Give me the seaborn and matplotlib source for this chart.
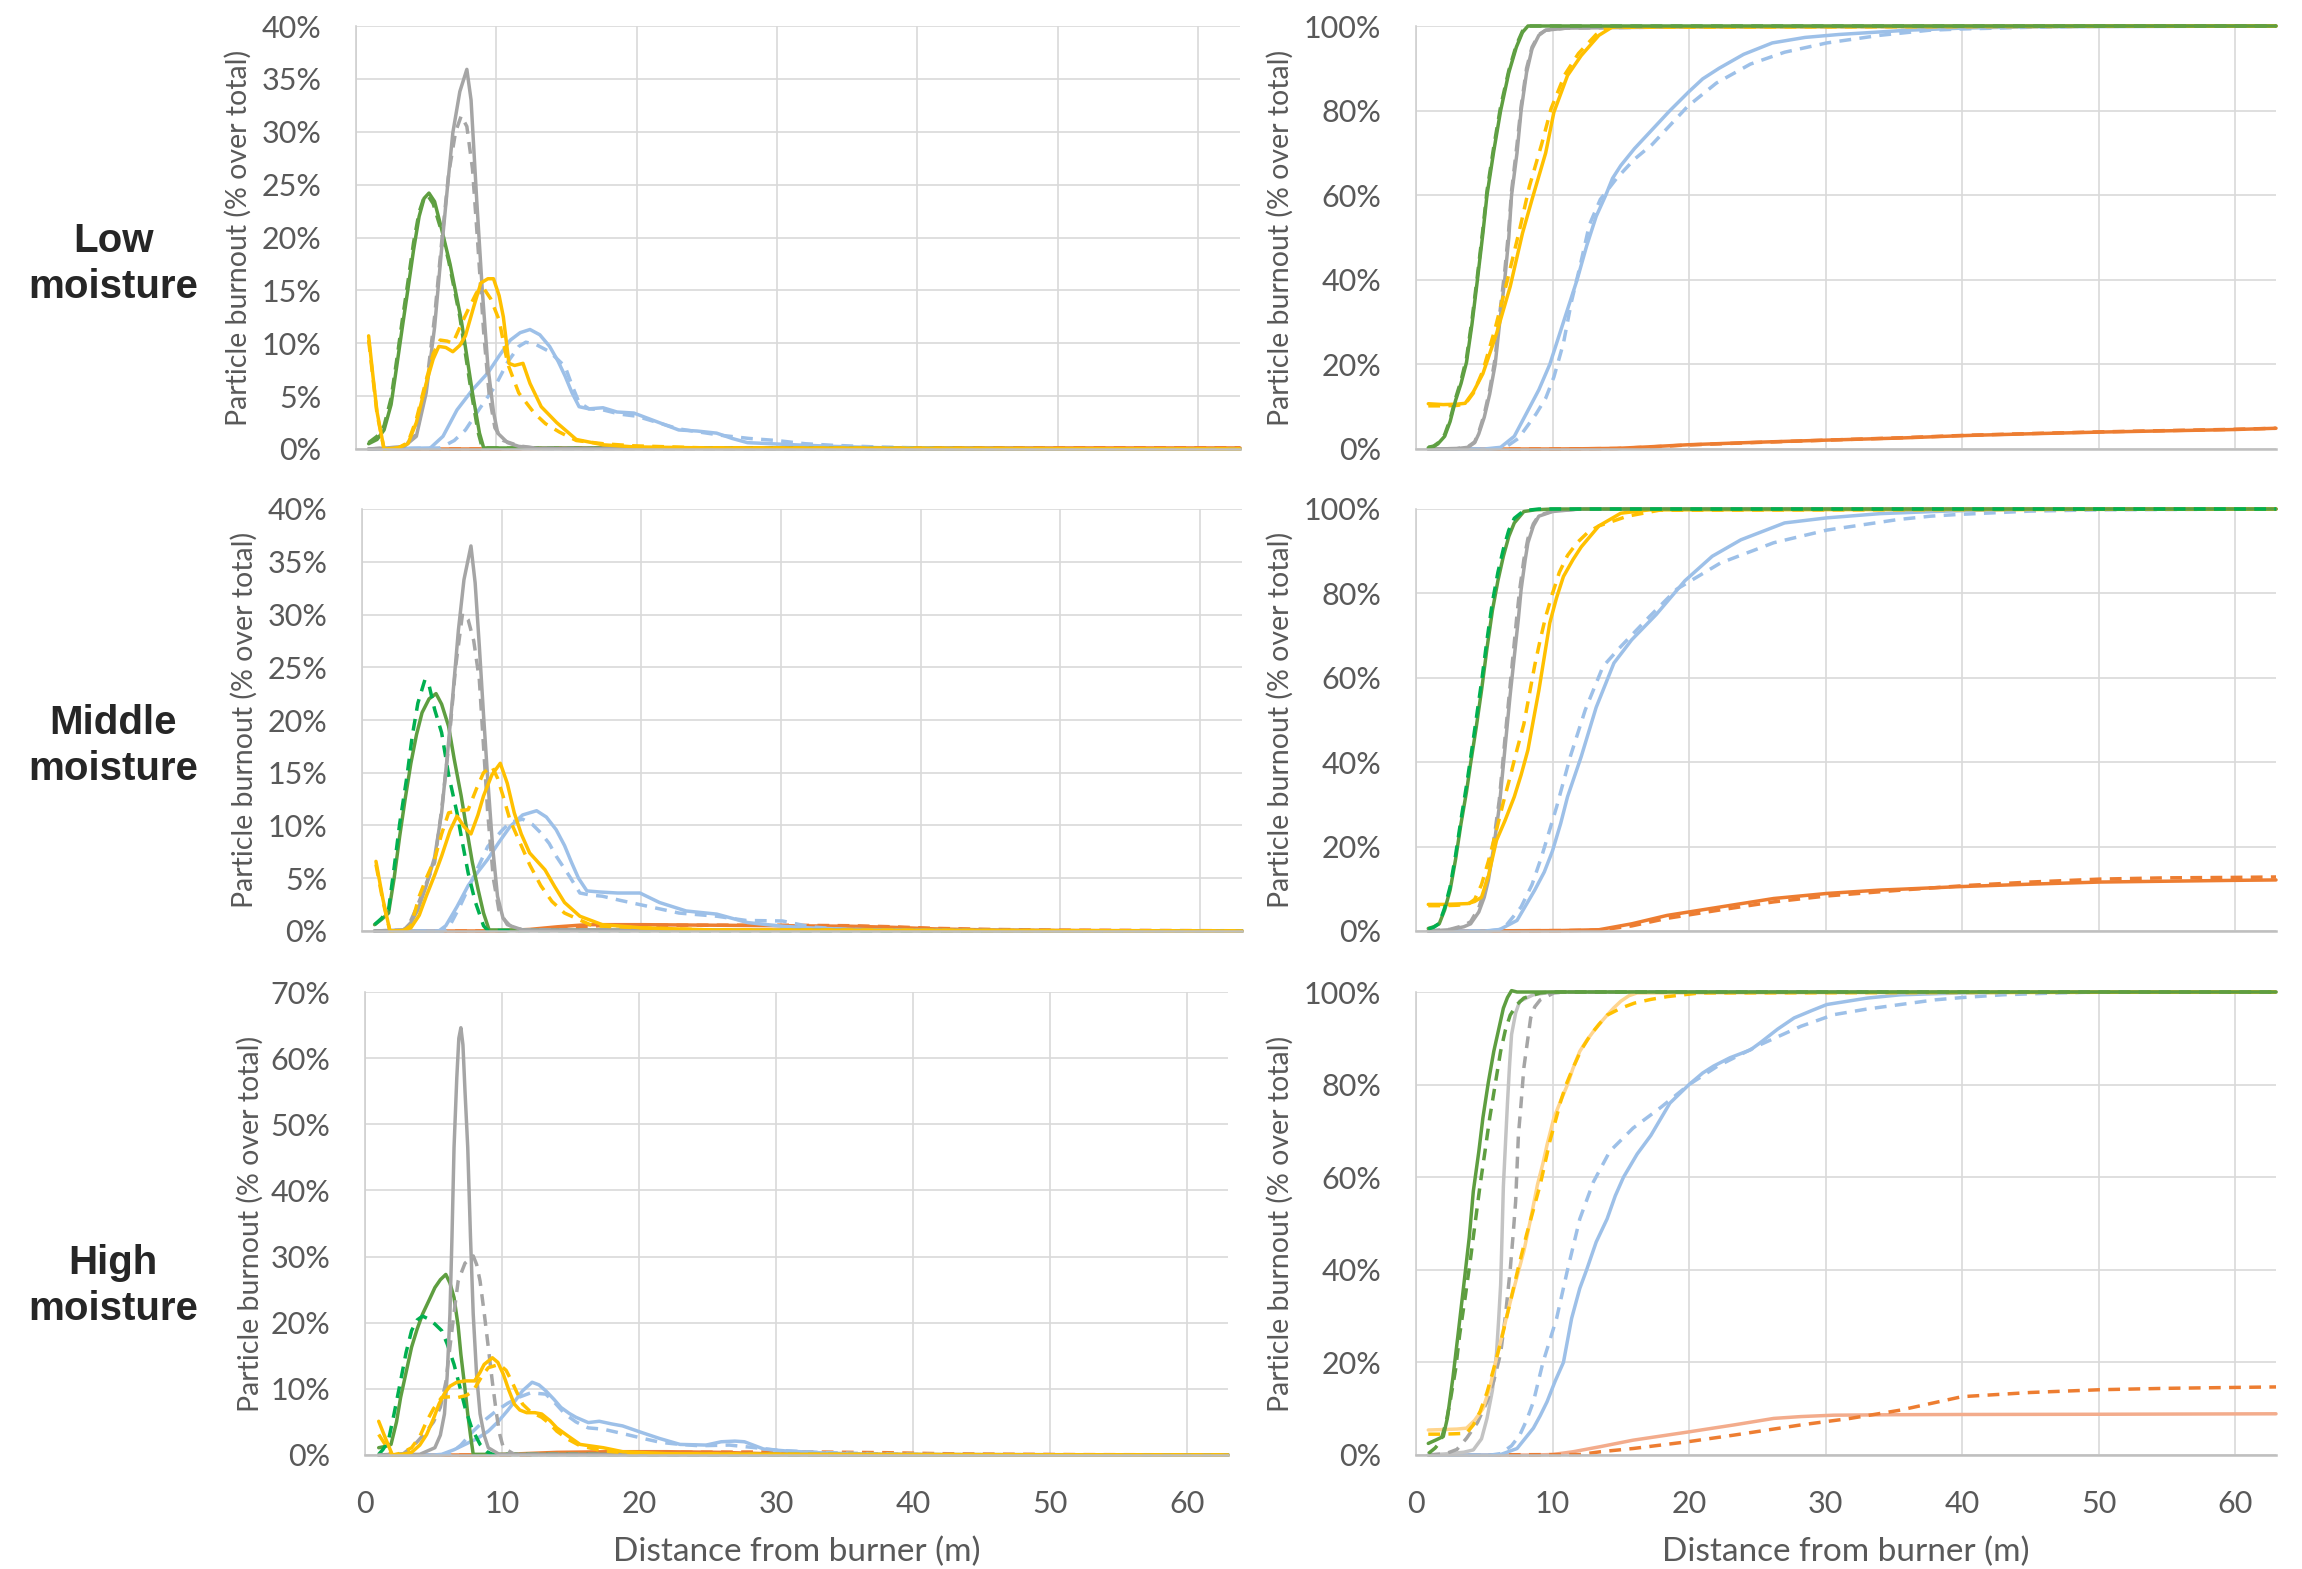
import matplotlib
matplotlib.use("Agg")
import matplotlib.pyplot as plt
import pandas as pd
import seaborn as sns
from matplotlib.ticker import FuncFormatter, FixedLocator

# ---------------------------------------------------------------- text
ROW_LABELS = ["Low\nmoisture", "Middle\nmoisture", "High\nmoisture"]
Y_LABEL = "Particle burnout (% over total)"
X_LABEL = "Distance from burner (m)"
X_TICKS = [0, 10, 20, 30, 40, 50, 60]
PDF_TICKS_LOW = [0, 5, 10, 15, 20, 25, 30, 35, 40]
PDF_TICKS_MID = [0, 5, 10, 15, 20, 25, 30, 35, 40]
PDF_TICKS_HIGH = [0, 10, 20, 30, 40, 50, 60, 70]
CDF_TICKS = [0, 20, 40, 60, 80, 100]

# ---------------------------------------------------------------- data: (distance m, %)
# ---- LOW moisture, distribution
LOW_PDF_GREEN_S = [(0.9,0.5),(1.5,0.9),(2.0,1.8),(2.5,4.2),(2.9,7.8),(3.3,11.5),(3.7,15.1),(4.1,18.8),(4.5,22.0),(4.85,23.7),(5.2,24.2),(5.6,23.4),(6.1,20.8),(6.7,17.5),(7.5,12.2),(8.3,5.3),(8.8,1.5),(9.1,0.1),(63,0)]
LOW_PDF_GREEN_D = [(0.9,0.6),(1.5,1.2),(2.0,2.2),(2.5,4.8),(2.9,8.4),(3.3,12.2),(3.7,15.8),(4.1,19.5),(4.5,22.4),(4.85,23.8),(5.1,24.0),(5.5,23.2),(6.0,21.0),(6.6,17.8),(7.4,12.5),(8.2,5.5),(8.7,1.6),(9.0,0.1),(63,0)]
LOW_PDF_GRAY_S = [(0.9,0),(3.4,0.2),(4.3,1.2),(5.0,5.3),(5.6,11.5),(6.1,18.9),(6.5,24.5),(6.9,29.9),(7.4,33.8),(7.9,35.9),(8.2,33.0),(8.6,23.6),(9.0,15.0),(9.4,7.8),(9.8,3.5),(10.1,1.5),(10.8,0.6),(11.6,0.25),(13,0.05),(63,0)]
LOW_PDF_GRAY_D = [(0.9,0),(3.4,0.2),(4.3,1.4),(5.0,5.8),(5.6,12.5),(6.1,19.5),(6.6,26.0),(7.1,30.0),(7.5,31.5),(7.9,30.5),(8.3,26.5),(8.7,19.0),(9.1,11.0),(9.5,5.0),(9.9,2.0),(10.5,0.8),(11.6,0.3),(13,0.05),(63,0)]
LOW_PDF_GOLD_S = [(0.9,10.7),(1.2,7.0),(1.5,3.5),(2.0,0),(3.0,0.1),(3.7,0.5),(4.3,2.5),(5.0,6.2),(5.5,8.5),(5.9,9.7),(6.4,9.6),(6.9,9.2),(7.4,9.8),(7.8,10.7),(8.4,13.5),(8.9,15.7),(9.4,16.1),(9.8,16.1),(10.2,14.5),(10.5,12.5),(10.9,8.1),(11.3,7.9),(11.9,8.1),(12.4,6.2),(13.2,4.0),(14.3,2.5),(15.7,0.9),(17.6,0.4),(19.8,0.2),(25,0.1),(63,0)]
LOW_PDF_GOLD_D = [(0.9,10.3),(1.5,3.3),(2.0,0),(3.0,0.1),(3.7,0.6),(4.3,2.8),(5.0,6.5),(5.5,9.0),(6.0,10.3),(6.5,10.2),(6.9,10.0),(7.5,11.8),(8.0,13.2),(8.6,14.8),(9.1,15.2),(9.6,14.2),(10.2,12.2),(10.8,8.1),(11.6,5.3),(12.7,3.4),(13.5,2.4),(14.5,1.6),(15.7,0.8),(17.6,0.5),(19.8,0.3),(25,0.1),(63,0)]
LOW_PDF_BLUE_S = [(0.9,0),(5.3,0.1),(6.2,1.2),(7.2,3.7),(8.3,5.6),(9.4,7.2),(10.2,8.8),(11.0,10.3),(11.7,11.0),(12.4,11.3),(13.1,10.8),(13.8,9.7),(14.4,8.3),(14.9,6.9),(15.4,5.3),(15.9,4.0),(16.6,3.8),(17.6,3.9),(18.6,3.5),(19.8,3.4),(20.8,2.9),(22.0,2.3),(23.0,1.8),(24.3,1.7),(25.7,1.5),(26.8,1.0),(27.9,0.6),(31.2,0.4),(34,0.25),(38,0.1),(42,0.05),(63,0)]
LOW_PDF_BLUE_D = [(0.9,0),(6.0,0.1),(7.0,0.8),(7.8,1.8),(8.8,3.8),(9.9,5.9),(10.8,8.2),(11.6,9.7),(12.1,10.1),(12.8,9.9),(13.8,9.2),(14.9,7.8),(15.4,6.0),(15.9,4.4),(16.6,3.8),(17.6,3.7),(18.8,3.3),(20.0,3.1),(21.5,2.5),(23.0,1.9),(24.5,1.6),(26.0,1.3),(28,1.0),(30,0.8),(32,0.5),(34,0.35),(37,0.2),(42,0.05),(63,0)]
LOW_PDF_ORANGE_S = [(0.9,0),(10,0),(15,0.1),(25,0.1),(40,0.1),(63,0.1)]
LOW_PDF_ORANGE_D = [(0.9,0),(10,0),(15,0.1),(25,0.1),(40,0.1),(63,0.1)]

# ---- LOW moisture, cumulative
LOW_CDF_GREEN_S = [(0.9,0.3),(1.3,0.6),(1.6,1.2),(2.1,3.0),(2.5,6.5),(2.9,11.5),(3.3,15.5),(3.7,20.5),(4.1,29.5),(4.5,40),(4.9,51),(5.2,60),(5.7,70.5),(6.2,80),(6.8,89),(7.35,95),(7.8,98.5),(8.2,100),(63,100)]
LOW_CDF_GREEN_D = [(0.9,0.4),(1.3,0.7),(1.6,1.4),(2.1,3.4),(2.5,7.0),(2.9,12.0),(3.3,16.2),(3.7,21.5),(4.1,30.5),(4.5,41),(4.9,52),(5.2,61),(5.7,71.5),(6.2,81),(6.8,89.5),(7.35,95.5),(7.8,98.8),(8.2,100),(63,100)]
LOW_CDF_GRAY_S = [(0.9,0),(3.0,0.1),(3.8,0.4),(4.3,1.5),(4.6,3.6),(5.0,7.5),(5.4,13),(5.8,20),(6.1,29),(6.5,40),(6.8,50),(7.0,60),(7.4,70),(7.7,80),(8.1,89),(8.5,94.6),(9.0,97.8),(9.5,99),(11,99.5),(20,99.8),(63,100)]
LOW_CDF_GRAY_D = [(0.9,0),(3.0,0.1),(3.8,0.5),(4.3,1.7),(4.6,4.0),(5.0,8.2),(5.4,14),(5.8,21.5),(6.1,31),(6.5,42),(6.8,52),(7.0,61),(7.4,72),(7.7,81),(8.1,90),(8.5,95),(9.0,98),(9.5,99),(11,99.5),(20,99.8),(63,100)]
LOW_CDF_GOLD_S = [(0.9,10.7),(2.0,10.5),(3.0,10.6),(3.6,10.8),(4.2,13.5),(4.9,17.8),(5.9,27.3),(6.9,38.4),(7.8,51),(8.5,59),(9.5,70),(10.1,79.6),(11.1,88.3),(12.1,93),(13.4,97.8),(14.4,99.8),(63,100)]
LOW_CDF_GOLD_D = [(0.9,10.2),(2.0,10.2),(3.0,10.3),(3.6,10.6),(4.2,13.2),(4.9,18.5),(5.8,28.5),(6.7,40),(7.6,52),(8.3,62),(9.2,72),(9.9,80.5),(10.9,88.5),(11.9,93.5),(13.2,98),(14.0,99.7),(63,100)]
LOW_CDF_BLUE_S = [(0.9,0),(5.0,0),(6.2,0.4),(7.2,3.0),(8.2,9.1),(9.0,14),(9.8,20),(10.5,27),(11.2,34),(11.8,40),(12.5,48),(13.2,55),(13.9,60),(14.4,64),(15.0,67),(16.0,71),(17.3,75.5),(18.6,80),(20.0,84.5),(21.0,87.5),(22.2,90),(24.0,93.3),(26.1,96),(28.5,97.3),(31,98),(36,99),(40,99.5),(45,99.8),(63,100)]
LOW_CDF_BLUE_D = [(0.9,0),(5.5,0),(6.5,0.3),(7.5,2.5),(8.8,8.3),(9.5,12),(10.1,17),(10.8,25),(11.4,35),(12.0,43),(12.7,53),(13.5,59),(14.7,64),(16.0,68.5),(17.3,72),(18.6,76.5),(19.9,81),(22.0,86.5),(24.5,91),(27.0,93.8),(30.1,96),(34,97.8),(37.6,99),(40,99.3),(45,99.7),(50,100),(63,100)]
LOW_CDF_ORANGE_S = [(0.9,0),(10,0),(12,0.05),(14.7,0.15),(17,0.5),(19.9,1.0),(25,1.6),(30.1,2.1),(35.5,2.6),(40.4,3.2),(45,3.6),(50.1,4.0),(55,4.3),(59.9,4.6),(63,4.9)]
LOW_CDF_ORANGE_D = [(0.9,0),(10,0),(12,0.05),(14.7,0.12),(17,0.45),(19.9,0.95),(25,1.55),(30.1,2.1),(35.5,2.65),(40.4,3.25),(45,3.65),(50.1,4.05),(55,4.35),(59.9,4.65),(63,4.9)]

# ---- MIDDLE moisture, distribution
MID_PDF_GREEN_S = [(0.9,0.6),(1.4,1.1),(1.9,1.7),(2.3,5.0),(2.7,9.0),(3.1,12.6),(3.5,15.9),(3.9,18.6),(4.3,20.7),(4.8,22.0),(5.3,22.5),(5.7,21.5),(6.2,19.4),(6.6,16.3),(7.1,12.8),(7.5,9.6),(7.9,6.5),(8.3,4.0),(8.7,1.7),(9.1,0.1),(63,0)]
MID_PDF_GREEN_D = [(0.9,0.6),(1.4,1.2),(1.9,2.0),(2.3,6.0),(2.7,10.2),(3.2,14.5),(3.6,18.5),(4.0,21.6),(4.5,23.8),(4.8,23.3),(5.2,21.0),(5.7,18.8),(6.2,14.8),(6.8,11.2),(7.2,8.3),(7.6,5.5),(8.1,2.8),(8.7,0.5),(9.0,0.05),(63,0)]
MID_PDF_GRAY_S = [(0.9,0),(3.0,0.1),(3.5,0.8),(4.0,2.0),(4.6,4.3),(5.2,7.0),(5.7,11.2),(6.1,16.5),(6.5,22.3),(6.9,28.5),(7.3,33.3),(7.8,36.5),(8.1,33.0),(8.4,27.0),(8.7,20.5),(9.0,14.4),(9.35,8.0),(9.7,3.3),(10.1,1.2),(10.6,0.5),(11.5,0.1),(63,0)]
MID_PDF_GRAY_D = [(0.9,0),(3.0,0.1),(3.5,1.0),(4.0,2.5),(4.6,4.5),(5.2,6.5),(5.7,11.5),(6.2,17.5),(6.7,25.0),(7.2,30.1),(7.6,29.5),(8.0,27.5),(8.4,23.8),(8.7,17.5),(9.0,11.2),(9.4,5.0),(9.8,2.0),(10.4,0.6),(11.5,0.1),(63,0)]
MID_PDF_GOLD_S = [(1.0,6.6),(1.5,3.0),(2.0,0),(3.0,0.05),(3.5,0.3),(4.1,1.5),(4.6,3.3),(5.2,5.3),(5.7,7.1),(6.3,9.5),(6.8,10.9),(7.3,9.9),(7.8,9.2),(8.3,11.0),(8.7,12.8),(9.3,14.8),(9.9,15.9),(10.4,14.0),(10.9,11.2),(11.4,9.2),(12.0,7.4),(13.1,5.8),(13.8,4.2),(14.5,2.7),(15.6,1.4),(17.2,0.6),(20,0.3),(25,0.1),(63,0)]
MID_PDF_GOLD_D = [(1.0,6.3),(1.5,2.8),(2.0,0),(3.0,0.05),(3.5,0.5),(4.1,3.3),(4.6,5.0),(5.2,6.8),(5.7,9.2),(6.2,11.2),(6.9,11.4),(7.6,11.5),(8.2,13.5),(8.7,15.0),(9.3,15.6),(9.7,14.5),(10.1,12.8),(10.6,10.5),(11.2,8.7),(12.0,6.3),(12.8,4.3),(13.6,2.8),(14.5,1.7),(16.5,0.5),(20,0.3),(25,0.1),(63,0)]
MID_PDF_BLUE_S = [(0.9,0),(5.5,0),(6.0,0.5),(6.8,2.3),(7.6,4.3),(8.3,5.6),(9.0,6.8),(9.8,8.4),(10.6,9.9),(11.5,11.0),(12.5,11.4),(13.2,10.8),(13.9,9.6),(14.5,8.1),(15.0,6.5),(15.5,5.0),(16.1,3.8),(17.0,3.7),(18.3,3.6),(19.9,3.6),(21.3,2.7),(23.2,1.9),(25.4,1.6),(26.5,1.2),(27.6,0.8),(30.1,0.45),(32,0.3),(35,0.15),(40,0.05),(63,0)]
MID_PDF_BLUE_D = [(0.9,0),(5.8,0),(6.2,0.3),(7.0,2.3),(7.9,4.9),(9.0,8.0),(10.0,9.5),(10.6,10.3),(11.5,10.6),(12.2,10.1),(12.8,9.3),(13.4,8.3),(13.9,7.1),(14.8,5.3),(15.6,3.6),(16.4,3.4),(17.2,3.3),(18.5,2.9),(19.9,2.5),(21.3,2.1),(22.7,1.7),(25.4,1.4),(27.5,1.0),(30.1,0.95),(32.1,0.4),(34.4,0.15),(40,0.05),(63,0)]
MID_PDF_ORANGE_S = [(0.9,0),(9.5,0),(12,0.15),(14,0.4),(16.1,0.6),(20,0.6),(25,0.55),(30,0.5),(35,0.45),(38,0.35),(41,0.2),(45,0.1),(50,0.05),(63,0)]
MID_PDF_ORANGE_D = [(0.9,0),(10,0),(12.5,0.1),(15,0.3),(17,0.5),(20,0.55),(25,0.55),(30,0.55),(35,0.5),(38,0.4),(41,0.25),(45,0.15),(50,0.08),(63,0.02)]

# ---- MIDDLE moisture, cumulative
MID_CDF_GREEN_S = [(0.9,0.6),(1.3,1.0),(1.7,1.7),(2.1,5.0),(2.5,9.7),(2.9,17),(3.3,25.5),(3.7,33),(4.0,39.7),(4.4,48),(4.8,57),(5.2,67),(5.6,76),(6.0,83),(6.4,88.8),(6.8,93.5),(7.2,96.7),(7.9,99.4),(8.7,99.8),(10,100),(63,100)]
MID_CDF_GREEN_D = [(0.9,0.5),(1.3,0.9),(1.7,1.8),(2.1,5.5),(2.5,10.5),(2.9,18),(3.3,26.5),(3.7,34.5),(4.0,41),(4.4,50),(4.8,59),(5.2,69),(5.6,78),(6.0,85),(6.4,90.5),(6.8,95),(7.2,97.8),(7.9,99.6),(9,100),(63,100)]
MID_CDF_GRAY_S = [(0.9,0),(2.5,0.3),(3.5,1.0),(4.0,1.7),(4.6,4.5),(5.0,8.0),(5.3,12),(5.7,20),(6.1,29.4),(6.6,46),(6.9,56),(7.2,65),(7.5,74),(7.7,80.9),(8.0,88),(8.2,92),(8.6,96),(9.0,98.3),(10.0,99.4),(12,100),(63,100)]
MID_CDF_GRAY_D = [(0.9,0),(2.5,0.4),(3.5,1.3),(4.0,2.2),(4.6,5.5),(5.0,9.5),(5.3,13.5),(5.7,21.5),(6.1,31),(6.5,45),(6.8,55),(7.1,65),(7.4,75),(7.6,81),(7.9,88),(8.2,93),(8.6,96.5),(9.0,98.5),(10,99.5),(12,100),(63,100)]
MID_CDF_GOLD_S = [(0.9,6.3),(2.0,6.3),(3.0,6.4),(3.8,6.5),(4.3,7),(4.8,8.0),(5.3,13),(5.9,21.5),(6.5,26),(7.2,31.8),(7.7,37),(8.2,42.9),(8.6,50),(9.0,57),(9.4,65),(9.8,73),(10.3,79),(10.8,84),(11.5,88),(12.1,91),(13.4,96),(15.0,99),(17.1,99.8),(63,100)]
MID_CDF_GOLD_D = [(0.9,6.0),(2.0,6.0),(3.0,6.1),(3.8,6.3),(4.3,7.5),(4.8,11),(5.3,16.5),(5.9,24),(6.4,30.5),(6.9,36.6),(7.4,43),(7.9,49),(8.3,56),(8.7,63),(9.1,69),(9.5,74.5),(10.0,80),(10.5,85),(11.1,89),(11.8,92),(12.6,94.5),(13.4,96),(15.5,98.3),(17.8,99.7),(63,100)]
MID_CDF_BLUE_S = [(0.9,0),(5,0),(6.1,0.3),(7.4,2.5),(8.7,9.7),(9.4,14),(10.0,19),(10.6,25.5),(11.1,31.8),(12.1,41.3),(13.2,53),(14.5,63.5),(15.8,69),(17.6,75),(19.7,83),(21.7,88.8),(23.8,92.7),(27.0,96.7),(30.1,97.9),(34.0,98.9),(37.9,99.4),(40,99.6),(45,100),(63,100)]
MID_CDF_BLUE_D = [(0.9,0),(5.3,0),(6.4,0.5),(7.7,5.7),(8.5,11),(9.2,17.6),(10.3,29.4),(11.3,41.3),(12.4,52.4),(13.7,62.7),(15.0,67.4),(17.1,74.5),(19.1,81),(22.3,87.2),(26.2,92),(30.1,95),(35.3,97.5),(37.7,98.3),(39.7,98.7),(45,99.5),(50,99.8),(63,100)]
MID_CDF_ORANGE_S = [(0.9,0),(10.5,0.1),(13.4,0.3),(15.8,1.7),(18.4,3.7),(22.3,5.7),(26.2,7.7),(30.1,8.9),(34.0,9.7),(35.5,9.9),(39.7,10.5),(45,11.1),(50.1,11.6),(55,11.8),(59.9,12.0),(63,12.1)]
MID_CDF_ORANGE_D = [(0.9,0),(11,0.1),(13.4,0.2),(15.8,1.2),(18.4,3.0),(22.3,5.0),(26.2,6.9),(30.1,8.3),(34.0,9.3),(36,9.8),(40.4,10.8),(45,11.6),(50.1,12.3),(55,12.6),(59.9,12.7),(63,12.8)]

# ---- HIGH moisture, distribution
HIGH_PDF_GREEN_S = [(1.0,1.1),(1.5,1.3),(1.9,1.6),(2.3,5.0),(2.6,8.7),(3.0,12.5),(3.4,16.3),(3.8,19.0),(4.2,21.3),(4.7,23.5),(5.1,25.3),(5.5,26.5),(5.9,27.3),(6.2,26.0),(6.5,23.8),(6.8,19.5),(7.0,15.2),(7.3,10.0),(7.5,6.2),(7.7,3.0),(7.9,0.1),(63,0)]
HIGH_PDF_GREEN_D = [(1.0,0.1),(1.3,0.8),(1.7,2.1),(2.1,6.0),(2.6,11.2),(3.0,15.5),(3.4,18.8),(3.8,20.4),(4.2,21.0),(4.7,20.5),(5.1,19.8),(5.6,18.8),(6.0,16.8),(6.5,13.7),(6.9,10.5),(7.3,7.2),(7.8,4.0),(8.4,1.6),(8.9,0.5),(9.3,0.1),(63,0)]
HIGH_PDF_GRAY_S = [(1.0,0),(4.0,0.1),(5.1,1.1),(5.5,3.0),(5.8,6.2),(6.0,12),(6.2,21.3),(6.35,33),(6.5,46.5),(6.7,57),(6.85,63),(7.0,64.6),(7.15,62),(7.3,55),(7.5,46.5),(7.7,33),(7.9,21.3),(8.15,12),(8.4,6.2),(8.7,3),(9.0,1.1),(9.8,0.1),(63,0)]
HIGH_PDF_GRAY_D = [(1.0,0),(2.8,0.2),(3.6,1.5),(4.5,3.6),(5.0,5.0),(5.5,7.2),(5.9,11),(6.2,16.3),(6.5,21.5),(6.8,26.3),(7.3,29.0),(7.9,30.1),(8.15,28.8),(8.4,26.3),(8.7,21.5),(9.0,16.3),(9.3,11),(9.6,6.2),(9.85,3),(10.1,1.1),(10.9,0.1),(63,0)]
HIGH_PDF_GOLD_S = [(1.0,5.1),(1.5,2.5),(2.0,0),(2.7,0.1),(3.4,0.4),(4.0,1.5),(4.5,3.1),(5.0,5.5),(5.4,7.7),(5.8,9.3),(6.2,10.4),(6.7,11.0),(7.3,11.2),(8.0,11.2),(8.4,12.5),(8.7,13.7),(9.3,14.7),(9.7,14.0),(10.1,12.2),(10.5,9.8),(10.9,7.7),(11.3,6.8),(11.8,6.4),(12.4,6.4),(12.9,6.2),(13.5,5.2),(14.0,4.1),(14.8,2.9),(15.7,1.6),(17.4,1.1),(18.8,0.5),(22,0.2),(30,0.1),(63,0)]
HIGH_PDF_GOLD_D = [(1.0,3.1),(1.5,1.5),(2.0,0),(2.7,0.3),(3.4,1.1),(4.0,2.8),(4.5,5.1),(5.0,7.0),(5.6,8.7),(6.2,8.8),(6.8,8.7),(7.4,9.0),(7.9,9.7),(8.5,11.8),(9.0,13.2),(9.8,13.7),(10.3,12.8),(10.7,11.2),(11.1,9.4),(11.5,7.7),(12.1,6.5),(12.9,5.7),(13.5,4.7),(14.0,3.6),(14.8,2.4),(15.7,1.4),(17.4,0.6),(20,0.2),(30,0.1),(63,0)]
HIGH_PDF_BLUE_S = [(1.0,0),(5.0,0),(5.6,0.1),(6.5,0.8),(7.3,1.6),(8.2,2.5),(9.0,3.6),(9.7,5.0),(10.4,6.7),(11.0,8.3),(11.5,9.7),(12.2,11.0),(12.7,10.6),(13.2,9.7),(13.8,8.4),(14.3,7.2),(14.9,6.3),(15.4,5.7),(16.3,4.9),(17.1,5.1),(18.0,4.7),(18.8,4.4),(20.2,3.4),(21.5,2.5),(23.0,1.6),(24.9,1.5),(26.0,2.0),(27.0,2.1),(27.7,2.0),(29.1,0.9),(30.8,0.6),(33.6,0.3),(37,0.1),(63,0)]
HIGH_PDF_BLUE_D = [(1.0,0),(5.5,0),(6.2,0.2),(7.0,1.5),(7.9,3.6),(8.7,5.2),(9.6,6.7),(10.4,7.8),(11.2,8.7),(12.1,9.4),(13.2,9.2),(13.9,7.8),(14.6,6.2),(15.4,5.0),(16.3,4.1),(17.4,3.9),(19.1,3.1),(20.3,2.5),(21.6,1.9),(23.0,1.6),(24.4,1.4),(26.6,1.5),(28.5,1.1),(30.2,0.7),(33,0.4),(37,0.2),(42,0.05),(63,0)]
HIGH_PDF_ORANGE_S = [(1.0,0),(9,0),(11.5,0.2),(14,0.4),(18,0.5),(22,0.5),(26,0.4),(30,0.15),(35,0.05),(63,0)]
HIGH_PDF_ORANGE_D = [(1.0,0),(12,0),(14,0.2),(18,0.35),(22,0.4),(28,0.45),(33,0.45),(38,0.35),(42,0.2),(47,0.12),(52,0.06),(63,0.02)]

# ---- HIGH moisture, cumulative
HIGH_CDF_GREEN_S = [(0.9,2.5),(1.5,3.3),(2.0,4.0),(2.3,8),(2.7,16.6),(3.1,26.5),(3.5,36.7),(3.9,47),(4.2,57),(4.6,65.5),(4.9,72.8),(5.3,80.5),(5.7,87.2),(6.1,92.5),(6.4,96.5),(6.7,98.8),(7.0,100.3),(7.4,100),(63,100)]
HIGH_CDF_GREEN_D = [(0.9,0.3),(1.4,1.5),(1.8,2.9),(2.2,7),(2.5,11.5),(2.9,18.5),(3.2,26),(3.6,34),(4.0,42.5),(4.35,50.5),(4.7,58.4),(5.05,65.5),(5.4,72.8),(5.8,80),(6.2,87.2),(6.55,91.8),(6.9,95),(7.4,97.3),(7.9,98.7),(9.1,99.8),(10,100),(63,100)]
HIGH_CDF_GRAY_S = [(0.9,0),(2.5,0.3),(3.5,0.6),(4.2,1.1),(4.8,3.5),(5.2,7.9),(5.6,14),(5.9,22),(6.05,29),(6.2,36.7),(6.3,47),(6.4,58),(6.55,67),(6.7,76),(6.85,84),(7.0,90.8),(7.3,95.5),(7.6,98),(8.6,99.4),(10,100),(63,100)]
HIGH_CDF_GRAY_D = [(0.9,0),(2.2,0.3),(3.0,1.2),(3.7,3.6),(4.5,7),(5.2,11.5),(5.7,16),(6.2,22),(6.55,30),(6.9,40),(7.1,47),(7.3,54.8),(7.5,69),(7.7,76),(7.9,83.6),(8.15,89),(8.4,94.4),(8.7,96.8),(9.1,98.3),(10.1,99.8),(11,100),(63,100)]
HIGH_CDF_GOLD_S = [(0.9,5.4),(2.0,5.5),(3.0,5.6),(3.7,5.8),(4.3,7.5),(4.9,10),(5.4,14.5),(5.9,20.9),(6.4,27),(6.9,33),(7.4,38.5),(7.9,44),(8.4,51),(8.9,58.4),(9.3,63),(9.6,67),(10.1,72.8),(10.6,76.5),(11.1,80),(11.5,83.5),(12.0,87.2),(12.5,89.5),(13.0,91.5),(13.5,93.3),(14.0,95),(14.5,96.6),(15.0,98),(15.6,99.2),(16.2,99.8),(63,100)]
HIGH_CDF_GOLD_D = [(0.9,4.5),(2.0,4.5),(3.0,4.6),(3.7,4.7),(4.2,6.5),(4.7,9.4),(5.2,13.5),(5.7,18.7),(6.3,25.5),(6.9,33),(7.5,40.5),(8.1,47.6),(8.6,53),(9.1,58.4),(9.45,63),(9.8,67.7),(10.2,72),(10.6,76.4),(11.0,80),(11.5,83.6),(12.1,87.5),(12.8,90.8),(13.4,93),(14.0,95),(15.0,96.5),(16.0,97.6),(17.2,98.4),(18.4,99),(20.8,99.8),(63,100)]
HIGH_CDF_BLUE_S = [(0.9,0),(5.5,0),(6.2,0.1),(7.4,1.4),(8.6,5.8),(9.1,8.5),(9.6,11.5),(10.2,16),(10.8,20),(11.4,29.5),(12.0,36),(12.5,40),(13.2,46),(14.0,51),(14.6,56),(15.2,60),(16.2,65),(17.2,69),(18.0,73),(18.6,76),(20.0,80),(21.0,82.5),(21.8,84),(23.0,85.8),(24.5,87.5),(25.2,89),(26.5,92),(27.7,94.4),(29.0,96),(30.1,97.3),(33.1,98.7),(35.5,99.4),(40,99.8),(45,100),(63,100)]
HIGH_CDF_BLUE_D = [(0.9,0),(5.5,0),(6.2,0.3),(7.0,2),(7.6,4.3),(8.1,7.5),(8.6,11.5),(9.3,20),(10.3,29.5),(11.1,40),(12.0,51),(13.0,59),(14.2,65.6),(15.9,70.6),(17.9,75),(20.0,80),(22.1,84),(25.2,88.6),(28.2,92.6),(30.6,95.1),(33,96.3),(35.5,97.3),(38,98.3),(40,98.8),(43,99.4),(47,99.8),(50,100),(63,100)]
HIGH_CDF_ORANGE_S = [(0.9,0),(8.6,0),(10,0.1),(11.5,0.7),(13.5,1.8),(15.9,3.2),(20.0,5.0),(23.3,6.5),(26.2,7.9),(28.2,8.3),(30.6,8.6),(35,8.7),(40,8.75),(50,8.8),(63,8.9)]
HIGH_CDF_ORANGE_D = [(0.9,0),(12.0,0.1),(13.5,0.7),(15.9,1.4),(20.0,2.9),(23.3,4.3),(28.2,6.5),(31.8,7.9),(35.5,9.7),(40,12.6),(45,13.5),(50.1,14.1),(55,14.4),(60.2,14.6),(63,14.7)]

# ---------------------------------------------------------------- styles
GREEN = "#5E9E40"
GREEN_D_LOW = "#5FA043"
GREEN_D = "#00B050"
GRAY = "#A5A5A5"
GRAY_LIGHT = "#C3C3C3"
GOLD = "#FFC000"
GOLD_LIGHT = "#FFD58E"
BLUE = "#9DC0E8"
ORANGE = "#ED7D31"
ORANGE_LIGHT = "#F3AC8C"

SOLID = "-"
DASH = (0, (3.4, 2.4))
LW = 2.5

# panel -> list of (series, colour, linestyle), drawn in this order
PANELS = {
    (0, 0): [(LOW_PDF_ORANGE_S, ORANGE, SOLID), (LOW_PDF_ORANGE_D, ORANGE, DASH),
             (LOW_PDF_BLUE_S, BLUE, SOLID), (LOW_PDF_BLUE_D, BLUE, DASH),
             (LOW_PDF_GREEN_S, GREEN, SOLID), (LOW_PDF_GREEN_D, GREEN_D_LOW, DASH),
             (LOW_PDF_GRAY_S, GRAY, SOLID), (LOW_PDF_GRAY_D, GRAY, DASH),
             (LOW_PDF_GOLD_S, GOLD, SOLID), (LOW_PDF_GOLD_D, GOLD, DASH)],
    (0, 1): [(LOW_CDF_ORANGE_S, ORANGE, SOLID), (LOW_CDF_ORANGE_D, ORANGE, DASH),
             (LOW_CDF_BLUE_S, BLUE, SOLID), (LOW_CDF_BLUE_D, BLUE, DASH),
             (LOW_CDF_GRAY_S, GRAY, SOLID), (LOW_CDF_GRAY_D, GRAY, DASH),
             (LOW_CDF_GOLD_S, GOLD, SOLID), (LOW_CDF_GOLD_D, GOLD, DASH),
             (LOW_CDF_GREEN_S, GREEN, SOLID), (LOW_CDF_GREEN_D, GREEN_D_LOW, DASH)],
    (1, 0): [(MID_PDF_ORANGE_S, ORANGE, SOLID), (MID_PDF_ORANGE_D, ORANGE, DASH),
             (MID_PDF_BLUE_S, BLUE, SOLID), (MID_PDF_BLUE_D, BLUE, DASH),
             (MID_PDF_GREEN_S, GREEN, SOLID), (MID_PDF_GREEN_D, GREEN_D, DASH),
             (MID_PDF_GRAY_S, GRAY, SOLID), (MID_PDF_GRAY_D, GRAY, DASH),
             (MID_PDF_GOLD_S, GOLD, SOLID), (MID_PDF_GOLD_D, GOLD, DASH)],
    (1, 1): [(MID_CDF_ORANGE_S, ORANGE, SOLID), (MID_CDF_ORANGE_D, ORANGE, DASH),
             (MID_CDF_BLUE_S, BLUE, SOLID), (MID_CDF_BLUE_D, BLUE, DASH),
             (MID_CDF_GRAY_S, GRAY, SOLID), (MID_CDF_GRAY_D, GRAY, DASH),
             (MID_CDF_GOLD_S, GOLD, SOLID), (MID_CDF_GOLD_D, GOLD, DASH),
             (MID_CDF_GREEN_S, GREEN, SOLID), (MID_CDF_GREEN_D, GREEN_D, DASH)],
    (2, 0): [(HIGH_PDF_ORANGE_S, ORANGE, SOLID), (HIGH_PDF_ORANGE_D, ORANGE, DASH),
             (HIGH_PDF_BLUE_S, BLUE, SOLID), (HIGH_PDF_BLUE_D, BLUE, DASH),
             (HIGH_PDF_GREEN_S, GREEN, SOLID), (HIGH_PDF_GREEN_D, GREEN_D, DASH),
             (HIGH_PDF_GRAY_S, GRAY, SOLID), (HIGH_PDF_GRAY_D, GRAY, DASH),
             (HIGH_PDF_GOLD_S, GOLD, SOLID), (HIGH_PDF_GOLD_D, GOLD, DASH)],
    (2, 1): [(HIGH_CDF_ORANGE_S, ORANGE_LIGHT, SOLID), (HIGH_CDF_ORANGE_D, ORANGE, DASH),
             (HIGH_CDF_BLUE_S, BLUE, SOLID), (HIGH_CDF_BLUE_D, BLUE, DASH),
             (HIGH_CDF_GRAY_S, GRAY_LIGHT, SOLID), (HIGH_CDF_GRAY_D, GRAY, DASH),
             (HIGH_CDF_GOLD_S, GOLD_LIGHT, SOLID), (HIGH_CDF_GOLD_D, GOLD, DASH),
             (HIGH_CDF_GREEN_S, GREEN, SOLID), (HIGH_CDF_GREEN_D, GREEN, DASH)],
}
YTICKS = {(0, 0): PDF_TICKS_LOW, (1, 0): PDF_TICKS_MID, (2, 0): PDF_TICKS_HIGH,
          (0, 1): CDF_TICKS, (1, 1): CDF_TICKS, (2, 1): CDF_TICKS}

# axes boxes in pixels: left, right, top, bottom
BOXES = {(0, 0): (356, 1240, 26, 449), (1, 0): (362, 1242, 509, 931), (2, 0): (365, 1228, 992, 1455),
         (0, 1): (1416, 2276, 26, 449), (1, 1): (1416, 2276, 509, 931), (2, 1): (1416, 2276, 992, 1455)}
YLABEL_X = {(0, 0): 238, (1, 0): 244, (2, 0): 250, (0, 1): 1280, (1, 1): 1280, (2, 1): 1280}
ROW_LABEL_Y = [264, 746, 1286]

# ---------------------------------------------------------------- figure
sns.set_theme(style="white")
plt.rcParams["font.family"] = ["Lato", "DejaVu Sans"]

W, H = 2302, 1569
fig = plt.figure(figsize=(W / 100, H / 100), dpi=100)
TXT = "#595959"
pct = FuncFormatter(lambda v, _: f"{v:.0f}%")

for key, series in PANELS.items():
    l, r, t, b = BOXES[key]
    ax = fig.add_axes([l / W, 1 - b / H, (r - l) / W, (b - t) / H])
    for pts, col, ls in series:
        df = pd.DataFrame(pts, columns=["dist", "burn"])
        sns.lineplot(data=df, x="dist", y="burn", ax=ax, color=col, linewidth=LW,
                     linestyle=ls, sort=False, estimator=None, clip_on=False)
    ticks = YTICKS[key]
    ax.set_xlim(0, 63)
    ax.set_ylim(0, ticks[-1])
    ax.xaxis.set_major_locator(FixedLocator(X_TICKS))
    ax.yaxis.set_major_locator(FixedLocator(ticks))
    ax.yaxis.set_major_formatter(pct)
    ax.grid(True, color="#D9D9D9", linewidth=1.2)
    ax.set_axisbelow(True)
    for s in ("top", "right"):
        ax.spines[s].set_visible(False)
    ax.spines["left"].set_color("#D0D0D0")
    ax.spines["left"].set_linewidth(1.2)
    ax.spines["bottom"].set_color("#BFBFBF")
    ax.spines["bottom"].set_linewidth(1.8)
    ax.tick_params(length=0, pad=25, labelsize=22, labelcolor=TXT)
    ax.set_ylabel(Y_LABEL, fontsize=20.5, color=TXT)
    ax.yaxis.label.set_va("center")
    ax.yaxis.set_label_coords((YLABEL_X[key] - l) / (r - l), 0.5)
    if key[0] == 2:
        ax.set_xlabel(X_LABEL, fontsize=24, color=TXT)
        ax.xaxis.label.set_va("center")
        ax.xaxis.set_label_coords(0.5, -(1552 - b) / (b - t))
    else:
        ax.set_xlabel("")
        ax.tick_params(labelbottom=False)

for lab, yc in zip(ROW_LABELS, ROW_LABEL_Y):
    fig.text(113 / W, 1 - yc / H, lab, ha="center", va="center", fontsize=29,
             fontweight="bold", family=["Liberation Sans", "DejaVu Sans"],
             color="#262626", linespacing=1.25)

fig.savefig("out.png", dpi=100)
